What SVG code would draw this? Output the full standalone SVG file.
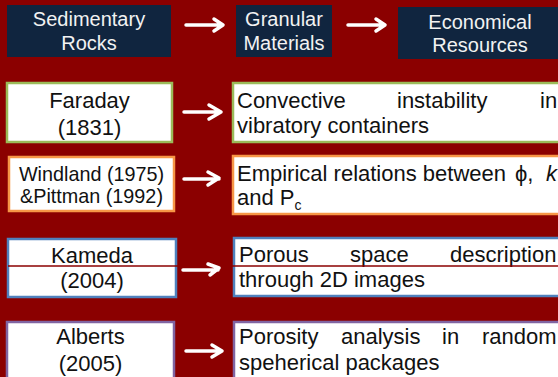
<svg xmlns="http://www.w3.org/2000/svg" width="558" height="377" viewBox="0 0 558 377">
<defs>
<style>
.navy{fill:#10253F;}
.tl{font-family:"Liberation Sans",Arial,sans-serif;font-size:20px;fill:#F2F2F2;text-anchor:middle;}
.lt{font-family:"Liberation Sans",Arial,sans-serif;font-size:22px;fill:#111;text-anchor:middle;}
.rt{font-family:"Liberation Sans",Arial,sans-serif;font-size:22px;fill:#111;}
.box{fill:#fff;stroke-width:2.5;}
.g{stroke:#9BBB59;}
.o{stroke:#F79646;}
.b{stroke:#4F81BD;}
.p{stroke:#8064A2;}
.arr{fill:none;stroke:#fff;stroke-width:3.5;stroke-linecap:round;stroke-linejoin:round;}
</style>
</defs>
<rect x="0" y="0" width="558" height="377" fill="#8B0000"/>

<g id="sedimentary">
<rect class="navy" x="7" y="5" width="164" height="52"/>
<text class="tl" x="89" y="26">Sedimentary</text>
<text class="tl" x="89" y="50">Rocks</text>
</g>
<g id="granular">
<rect class="navy" x="236" y="5" width="96" height="52"/>
<text class="tl" x="284" y="26">Granular</text>
<text class="tl" x="284" y="50">Materials</text>
</g>
<g id="economical">
<rect class="navy" x="398" y="7" width="165" height="52"/>
<text class="tl" x="480" y="29">Economical</text>
<text class="tl" x="480" y="52">Resources</text>
</g>

<g id="faraday">
<rect class="box g" x="7" y="83" width="165" height="59"/>
<text class="lt" x="89.5" y="108">Faraday</text>
<text class="lt" x="89.5" y="135">(1831)</text>
</g>
<g id="convective">
<rect class="box g" x="233" y="83" width="340" height="59"/>
<text class="rt" x="237" y="108">Convective</text>
<text class="rt" x="397" y="108">instability</text>
<text class="rt" x="540" y="108">in</text>
<text class="rt" x="237" y="133">vibratory containers</text>
</g>

<g id="windland">
<rect class="box o" x="9" y="157" width="165" height="54"/>
<text class="lt" x="91.5" y="181" style="font-size:19.8px">Windland (1975)</text>
<text class="lt" x="91.5" y="203" style="font-size:19.8px">&amp;Pittman (1992)</text>
</g>
<g id="empirical">
<rect class="box o" x="233" y="156" width="340" height="58"/>
<text class="rt" x="237" y="181">Empirical relations between</text>
<text class="rt" x="515" y="181">ϕ,</text>
<text class="rt" x="546" y="181" font-style="italic">k</text>
<text class="rt" x="237" y="205">and P<tspan font-size="14" dy="5">c</tspan></text>
</g>

<g id="kameda">
<rect class="box b" x="8" y="239" width="168" height="58"/>
<text class="lt" x="92" y="263">Kameda</text>
<text class="lt" x="92" y="288">(2004)</text>
</g>
<g id="porous">
<rect class="box b" x="234" y="238" width="340" height="58"/>
<text class="rt" x="239" y="262">Porous</text>
<text class="rt" x="350" y="262">space</text>
<text class="rt" x="450" y="262">description</text>
<text class="rt" x="239" y="287">through 2D images</text>
</g>

<g id="alberts">
<rect class="box p" x="7" y="322" width="167" height="70"/>
<text class="lt" x="90.5" y="344">Alberts</text>
<text class="lt" x="90.5" y="371">(2005)</text>
</g>
<g id="porosity">
<rect class="box p" x="234" y="322" width="340" height="70"/>
<text class="rt" x="239" y="344">Porosity</text>
<text class="rt" x="341" y="344">analysis</text>
<text class="rt" x="442" y="344">in</text>
<text class="rt" x="482" y="344">random</text>
<text class="rt" x="239" y="370">speherical packages</text>
</g>

<g id="connectors">
<line x1="8" y1="266" x2="558" y2="266" stroke="#8B0000" stroke-width="1.5"/>
<path class="arr" d="M186 25 H223 M214 19 L223 25 L214 31"/>
<path class="arr" d="M348 25 H385 M376 19 L385 25 L376 31"/>
<path class="arr" d="M184 112 H221 M209 105 L221 112 L209 119"/>
<path class="arr" d="M184 179 H219 M208 172 L219 178 L208 185"/>
<path class="arr" d="M183 270 H218 M208 264 L219 268 L210 275"/>
<path class="arr" d="M186 351 H222 M212 345 L222 351 L212 357"/>
</g>
</svg>
